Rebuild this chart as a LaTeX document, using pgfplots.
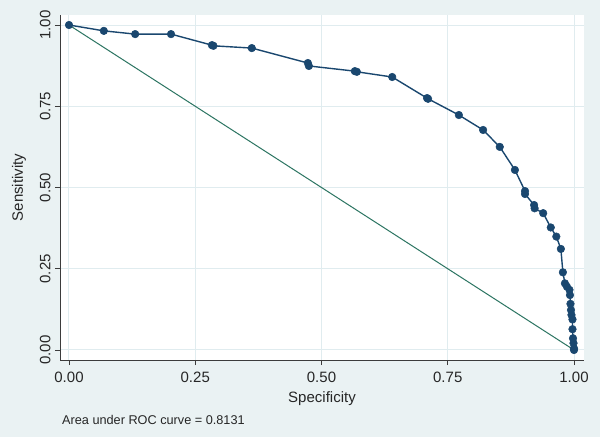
\documentclass[border=0pt]{standalone}
\usepackage{pgfplots}
\pgfplotsset{compat=1.18}
\usepackage{fontspec}
\setmainfont{Liberation Sans}
\definecolor{bgc}{RGB}{234,242,243}
\definecolor{gridc}{RGB}{224,236,239}
\definecolor{navyc}{RGB}{26,71,111}
\definecolor{refc}{RGB}{44,117,98}
\definecolor{axc}{RGB}{60,60,60}
\begin{document}
\begin{tikzpicture}[x=1pt,y=1pt]
\fill[bgc] (0,0) rectangle (600,437);
\begin{axis}[
  at={(60pt,77pt)}, anchor=south west,
  scale only axis, width=524pt, height=345pt,
  xmin=-0.01782, xmax=1.0198, ymin=-0.0308, ymax=1.0308,
  axis background/.style={fill=white},
  axis x line*=bottom, axis y line*=left,
  axis line style={axc, line width=0.9pt, -},
  xtick={0,0.25,0.5,0.75,1}, ytick={0,0.25,0.5,0.75,1},
  tick align=outside, major tick length=5pt,
  tick style={axc, line width=0.9pt},
  grid=major, major grid style={gridc, line width=1pt},
  /pgf/number format/.cd, fixed, fixed zerofill, precision=2, assume math mode=true,
  /pgfplots/.cd,
  ticklabel style={font=\fontsize{15}{18}\selectfont, text=black!85},
  yticklabel style={rotate=90, anchor=south},
  xticklabel shift=3pt, yticklabel shift=1pt,
  clip=false,
]
\addplot[refc, line width=1pt] coordinates {(0,1) (1,0)};
\addplot[navyc, line width=1.4pt, mark=*, mark size=3.8pt, mark options={fill=navyc, draw=navyc, line width=0.5pt}] coordinates {
(0,1) (0.069,0.982) (0.131,0.972) (0.202,0.972) (0.283,0.938) (0.286,0.936)
(0.362,0.929) (0.473,0.883) (0.475,0.874) (0.566,0.858) (0.570,0.856)
(0.640,0.840) (0.709,0.775) (0.711,0.773) (0.772,0.723) (0.820,0.677)
(0.853,0.625) (0.883,0.554) (0.903,0.489) (0.903,0.480) (0.921,0.446)
(0.922,0.436) (0.939,0.421) (0.954,0.377) (0.965,0.349) (0.974,0.311)
(0.978,0.239) (0.982,0.205) (0.986,0.195) (0.991,0.185) (0.992,0.169)
(0.993,0.142) (0.994,0.123) (0.995,0.108) (0.997,0.094) (0.997,0.064)
(0.998,0.036) (0.999,0.021) (1.0,0.005) (1.0,0)
};
\end{axis}
\node[font=\fontsize{15}{18}\selectfont, text=black!85] at (322,38) {Specificity};
\node[font=\fontsize{15}{18}\selectfont, text=black!85, rotate=90] at (19,249.5) {Sensitivity};
\node[font=\fontsize{12.7}{15}\selectfont, text=black!85, anchor=base west, inner sep=0pt] at (62,13) {Area under ROC curve = 0.8131};
\end{tikzpicture}
\end{document}
